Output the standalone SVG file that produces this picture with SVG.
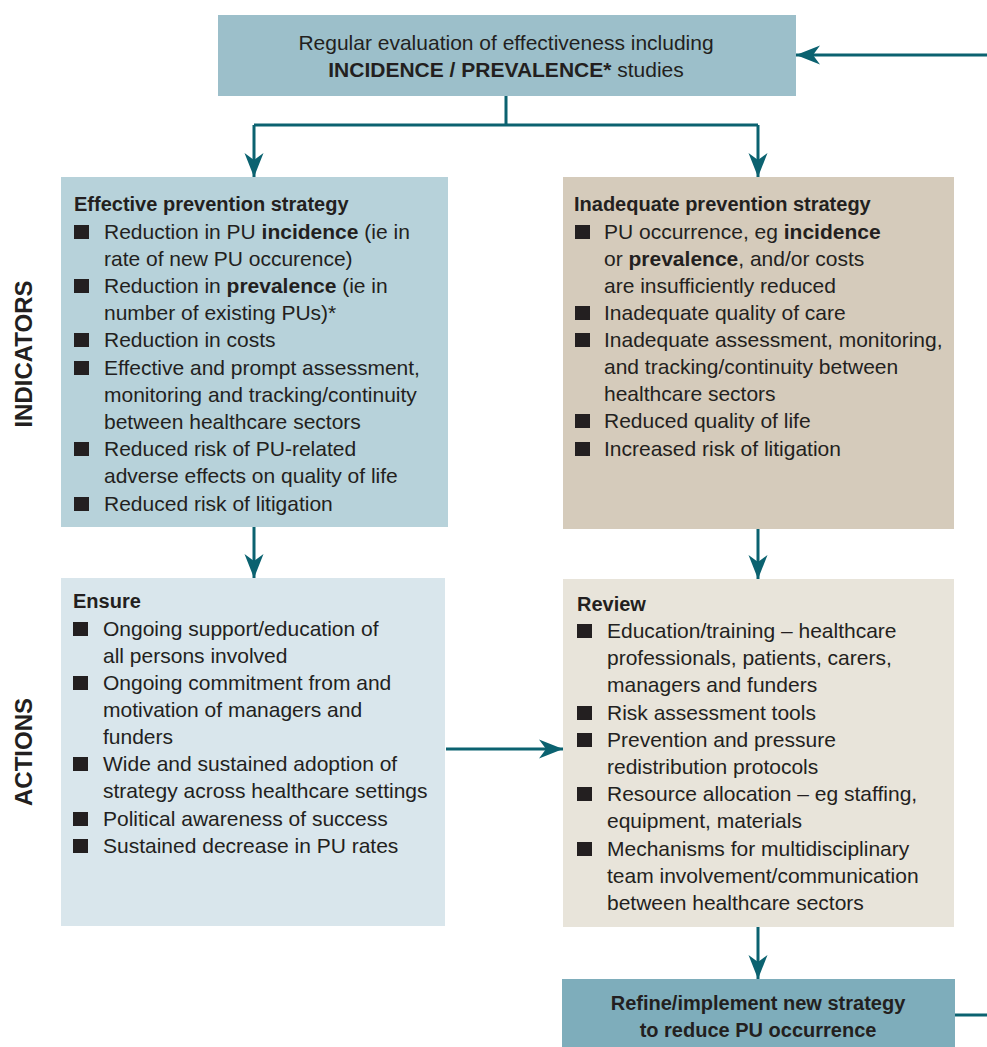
<svg xmlns="http://www.w3.org/2000/svg" width="987" height="1047" viewBox="0 0 987 1047">
<style>
  .t { font-family: "Liberation Sans", Arial, sans-serif; font-size: 21px; fill: #231f20; }
  .h { font-family: "Liberation Sans", Arial, sans-serif; font-size: 20px; font-weight: bold; fill: #231f20; }
  .side { font-family: "Liberation Sans", Arial, sans-serif; font-size: 24px; font-weight: bold; fill: #231f20; }
  .b { font-weight: bold; }
  .sq { fill: #231f20; }
  .conn { fill: none; stroke: #0b6270; stroke-width: 3; }
</style>
<defs>
  <marker id="ah" markerUnits="userSpaceOnUse" markerWidth="26" markerHeight="22" viewBox="0 0 26 22" refX="25" refY="11" orient="auto">
    <path d="M1,1.5 L25,11 L1,20.5 L8,11 Z" fill="#0b6270"/>
  </marker>
</defs>
<rect width="987" height="1047" fill="#ffffff"/>

<g id="label-indicators">
  <text class="side" text-anchor="middle" transform="translate(32,354) rotate(-90)">INDICATORS</text>
</g>
<g id="label-actions">
  <text class="side" text-anchor="middle" transform="translate(32,752) rotate(-90)">ACTIONS</text>
</g>

<g id="evaluation">
  <rect x="218" y="15" width="578" height="81" fill="#9cbfca"/>
  <text class="t" x="506" y="50" text-anchor="middle">Regular evaluation of effectiveness including</text>
  <text class="t" x="506" y="77" text-anchor="middle"><tspan class="b">INCIDENCE / PREVALENCE*</tspan> studies</text>
</g>

<g id="effective">
  <rect x="61" y="177" width="387" height="350" fill="#b7d2da"/>
  <text class="h" x="74" y="211">Effective prevention strategy</text>
  <rect class="sq" x="74" y="225" width="15" height="14"/>
  <text class="t" x="104" y="239">Reduction in PU <tspan class="b">incidence</tspan> (ie in</text>
  <text class="t" x="104" y="266">rate of new PU occurence)</text>
  <rect class="sq" x="74" y="279" width="15" height="14"/>
  <text class="t" x="104" y="293">Reduction in <tspan class="b">prevalence</tspan> (ie in</text>
  <text class="t" x="104" y="320">number of existing PUs)*</text>
  <rect class="sq" x="74" y="333" width="15" height="14"/>
  <text class="t" x="104" y="347">Reduction in costs</text>
  <rect class="sq" x="74" y="361" width="15" height="14"/>
  <text class="t" x="104" y="375">Effective and prompt assessment,</text>
  <text class="t" x="104" y="402">monitoring and tracking/continuity</text>
  <text class="t" x="104" y="429">between healthcare sectors</text>
  <rect class="sq" x="74" y="442" width="15" height="14"/>
  <text class="t" x="104" y="456">Reduced risk of PU-related</text>
  <text class="t" x="104" y="483">adverse effects on quality of life</text>
  <rect class="sq" x="74" y="497" width="15" height="14"/>
  <text class="t" x="104" y="511">Reduced risk of litigation</text>
</g>

<g id="inadequate">
  <rect x="563" y="177" width="391" height="352" fill="#d5cbbb"/>
  <text class="h" x="574" y="211">Inadequate prevention strategy</text>
  <rect class="sq" x="575" y="225" width="15" height="14"/>
  <text class="t" x="604" y="239">PU occurrence, eg <tspan class="b">incidence</tspan></text>
  <text class="t" x="604" y="266">or <tspan class="b">prevalence</tspan>, and/or costs</text>
  <text class="t" x="604" y="293">are insufficiently reduced</text>
  <rect class="sq" x="575" y="306" width="15" height="14"/>
  <text class="t" x="604" y="320">Inadequate quality of care</text>
  <rect class="sq" x="575" y="333" width="15" height="14"/>
  <text class="t" x="604" y="347">Inadequate assessment, monitoring,</text>
  <text class="t" x="604" y="374">and tracking/continuity between</text>
  <text class="t" x="604" y="401">healthcare sectors</text>
  <rect class="sq" x="575" y="414" width="15" height="14"/>
  <text class="t" x="604" y="428">Reduced quality of life</text>
  <rect class="sq" x="575" y="442" width="15" height="14"/>
  <text class="t" x="604" y="456">Increased risk of litigation</text>
</g>

<g id="ensure">
  <rect x="61" y="578" width="384" height="348" fill="#d9e6ec"/>
  <text class="h" x="73" y="608">Ensure</text>
  <rect class="sq" x="73" y="622" width="15" height="14"/>
  <text class="t" x="103" y="636">Ongoing support/education of</text>
  <text class="t" x="103" y="663">all persons involved</text>
  <rect class="sq" x="73" y="676" width="15" height="14"/>
  <text class="t" x="103" y="690">Ongoing commitment from and</text>
  <text class="t" x="103" y="717">motivation of managers and</text>
  <text class="t" x="103" y="744">funders</text>
  <rect class="sq" x="73" y="757" width="15" height="14"/>
  <text class="t" x="103" y="771">Wide and sustained adoption of</text>
  <text class="t" x="103" y="798">strategy across healthcare settings</text>
  <rect class="sq" x="73" y="812" width="15" height="14"/>
  <text class="t" x="103" y="826">Political awareness of success</text>
  <rect class="sq" x="73" y="839" width="15" height="14"/>
  <text class="t" x="103" y="853">Sustained decrease in PU rates</text>
</g>

<g id="review">
  <rect x="563" y="579" width="391" height="348" fill="#e8e4da"/>
  <text class="h" x="577" y="611">Review</text>
  <rect class="sq" x="577" y="624" width="15" height="14"/>
  <text class="t" x="607" y="638">Education/training – healthcare</text>
  <text class="t" x="607" y="665">professionals, patients, carers,</text>
  <text class="t" x="607" y="692">managers and funders</text>
  <rect class="sq" x="577" y="706" width="15" height="14"/>
  <text class="t" x="607" y="720">Risk assessment tools</text>
  <rect class="sq" x="577" y="733" width="15" height="14"/>
  <text class="t" x="607" y="747">Prevention and pressure</text>
  <text class="t" x="607" y="774">redistribution protocols</text>
  <rect class="sq" x="577" y="787" width="15" height="14"/>
  <text class="t" x="607" y="801">Resource allocation – eg staffing,</text>
  <text class="t" x="607" y="828">equipment, materials</text>
  <rect class="sq" x="577" y="842" width="15" height="14"/>
  <text class="t" x="607" y="856">Mechanisms for multidisciplinary</text>
  <text class="t" x="607" y="883">team involvement/communication</text>
  <text class="t" x="607" y="910">between healthcare sectors</text>
</g>

<g id="refine">
  <rect x="562" y="979" width="393" height="68" fill="#7eadbb"/>
  <text class="h" x="758" y="1010" text-anchor="middle">Refine/implement new strategy</text>
  <text class="h" x="758" y="1037" text-anchor="middle">to reduce PU occurrence</text>
</g>

<g id="connectors">
  <path class="conn" d="M506,96 V125 M254,125 H758"/>
  <path class="conn" d="M254,125 V177" marker-end="url(#ah)"/>
  <path class="conn" d="M758,125 V177" marker-end="url(#ah)"/>
  <path class="conn" d="M987,55 H796" marker-end="url(#ah)"/>
  <path class="conn" d="M254,527 V578" marker-end="url(#ah)"/>
  <path class="conn" d="M758,529 V579" marker-end="url(#ah)"/>
  <path class="conn" d="M446,749 H563" marker-end="url(#ah)"/>
  <path class="conn" d="M758,927 V979" marker-end="url(#ah)"/>
  <path class="conn" d="M955,1015 H987"/>
</g>
</svg>
